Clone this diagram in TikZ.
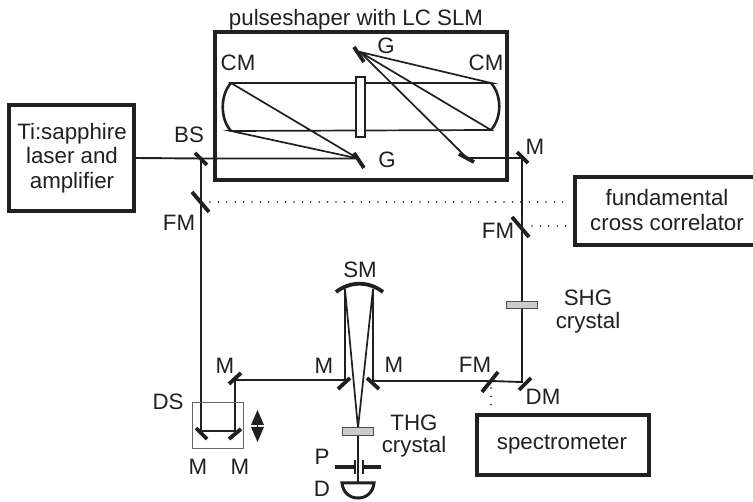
\documentclass[tikz,border=0pt]{standalone}
\usepackage{fontspec}
\setmainfont{Liberation Sans}
\definecolor{ink}{HTML}{231F20}
\tikzset{
  x=1pt,y=-1pt,
  box/.style={draw=ink,line width=3.6pt,fill=none},
  beam/.style={draw=ink,line width=1.9pt},
  thin beam/.style={draw=ink,line width=1.7pt},
  mirror/.style={draw=ink,line width=3.8pt},
  dots/.style={draw=ink,line width=1.8pt,line cap=round,dash pattern=on 0pt off 8.4pt},
  crystal/.style={draw=ink!80,line width=1pt,fill=black!20},
  lab/.style={text=ink,font=\fontsize{22.3}{24.5}\selectfont,inner sep=0pt,align=center},
}
\begin{document}
\begin{tikzpicture}
\useasboundingbox (0,0) rectangle (753,502);
\fill[white] (0,0) rectangle (753,502);
% boxes
\draw[box] (215,32) rectangle (507,180);
\node[lab] (psl) at (356,20) {pulseshaper with LC SLM};
\draw[box] (9,105) rectangle (134,211);
\node[lab] (laser) at (72,158) {Ti:sapphire\\laser and\\amplifier};
\draw[box] (575,177) rectangle (765,245);
\node[lab] (fcc) at (667,210) {fundamental\\cross correlator};
\draw[box] (477,415) rectangle (649,475);
\node[lab] (spec) at (562,445) {spectrometer};
% coordinates
\coordinate (lout) at (134,158);
\coordinate (bs) at (201,158.5);
\coordinate (g1) at (358,158.5);
\coordinate (cm1t) at (231,83);
\coordinate (cm1b) at (231,131);
\coordinate (cm2t) at (491,83);
\coordinate (cm2b) at (491,130);
\coordinate (g2) at (360,52);
\coordinate (sm) at (467,158);
\coordinate (m1) at (522,158);
\coordinate (ds1) at (201,431);
\coordinate (ds2) at (235,431);
\coordinate (m2) at (235,380);
\coordinate (m3) at (345,380);
\coordinate (sml) at (345,289);
\coordinate (smr) at (373,289);
\coordinate (m4) at (373,381);
\coordinate (fm3) at (490,381);
\coordinate (dm) at (522,382);
\coordinate (thg) at (358,428);
\coordinate (det) at (358,483);
% beams
\draw[beam] (lout) -- (bs) -- (g1);
\draw[beam] (bs) -- (ds1) -- (ds2) -- (m2) -- (m3) -- (sml);
\draw[beam] (smr) -- (m4) -- (fm3) -- (dm) -- (m1) -- (sm);
\draw[thin beam] (g1) -- (cm1t) -- (cm2t) -- (g2) -- (cm2b) -- (cm1b) -- (g1);
\draw[thin beam] (g2) -- (sm);
\draw[thin beam] (sml) -- (thg) -- (smr);
\draw[beam] (thg) -- (det);
% curved mirrors
\draw[draw=ink,line width=2.6pt] (cm1t) .. controls (220,95) and (220,119) .. (cm1b);
\draw[draw=ink,line width=2.6pt] (cm2t) .. controls (502,95) and (502,118) .. (cm2b);
\draw[mirror] (336,292) .. controls (350,281) and (369,281) .. (383,292);
% SLM
\draw[draw=ink,line width=2.8pt,fill=white] (356,77) rectangle (365,137);
% flat mirrors
\draw[mirror] (354,153) -- (364,168);
\draw[mirror] (354,47) -- (364,62);
\draw[mirror] (459,154) -- (474,162);
\draw[mirror] (517,152) -- (528,163);
\draw[mirror] (195,153) -- (207,165);
\draw[mirror] (192,192) -- (209,212);
\draw[mirror] (512,217) -- (529,237);
\draw[mirror] (196,428) -- (207,439);
\draw[mirror] (229,439) -- (241,429);
\draw[mirror] (229,384) -- (241,373);
\draw[mirror] (338,389) -- (350,378);
\draw[mirror] (367,378) -- (379,389);
\draw[mirror] (482,392) -- (498,372);
\draw[mirror] (519,390) -- (531,378);
% crystals
\draw[crystal] (506,302) rectangle (537,309);
\draw[crystal] (342,428) rectangle (373,436);
% delay stage
\draw[draw=black!60,line width=1pt] (192,403) rectangle (243,449);
\fill[ink] (257.5,410) -- (251,425) -- (264,425) -- cycle;
\fill[ink] (257.5,442) -- (251,427) -- (264,427) -- cycle;
\draw[draw=ink,line width=1pt] (257.5,424) -- (257.5,428);
% pinhole
\draw[draw=ink,line width=3.4pt] (335,467) -- (355,467);
\draw[draw=ink,line width=1.8pt] (355,460) -- (355,474);
\draw[draw=ink,line width=3.4pt] (363,467) -- (381,467);
\draw[draw=ink,line width=1.8pt] (363,460) -- (363,474);
% detector
\draw[draw=ink,line width=3pt] (342,483) -- (374,483) .. controls (373,493) and (366,498) .. (358,498) .. controls (350,498) and (343,493) .. (342,483) -- cycle;
% dotted
\coordinate (d1a) at (210,202);\coordinate (d1b) at (570,202);
\coordinate (d2a) at (532,226);\coordinate (d2b) at (570,226);
\coordinate (d3a) at (491,388);\coordinate (d3b) at (491,408);
\draw[dots] (d1a) -- (d1b);
\draw[dots] (d2a) -- (d2b);
\draw[dots] (d3a) -- (d3b);
% labels
\node[lab] (l1) at (238,63) {CM};
\node[lab] (l2) at (486,63) {CM};
\node[lab] (l3) at (386,46) {G};
\node[lab] (l4) at (387,160) {G};
\node[lab] (l5) at (189,135) {BS};
\node[lab] (l6) at (179,223) {FM};
\node[lab] (l7) at (535,147) {M};
\node[lab] (l8) at (498,231) {FM};
\node[lab] (l9) at (588,298) {SHG};
\node[lab] (l10) at (588,323) {crystal};
\node[lab] (l11) at (360,270) {SM};
\node[lab] (l12) at (225,366) {M};
\node[lab] (l13) at (324,366) {M};
\node[lab] (l14) at (394,365) {M};
\node[lab] (l15) at (475,365) {FM};
\node[lab] (l16) at (543,397) {DM};
\node[lab] (l17) at (168,402) {DS};
\node[lab] (l18) at (198,467) {M};
\node[lab] (l19) at (240,467) {M};
\node[lab] (l20) at (414,423) {THG};
\node[lab] (l21) at (414,447) {crystal};
\node[lab] (l22) at (322,457) {P};
\node[lab] (l23) at (322,489) {D};
\end{tikzpicture}
\end{document}
